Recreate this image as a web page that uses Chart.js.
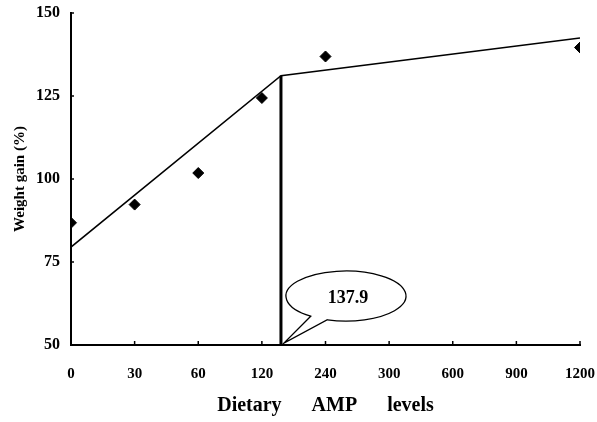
<!DOCTYPE html>
<html>
<head>
<meta charset="utf-8">
<script src="https://cdn.jsdelivr.net/npm/chart.js@4/dist/chart.umd.min.js"></script>
<style>
  html, body { margin: 0; padding: 0; background: #fff; }
  #wrap { width: 597px; height: 422px; position: relative; }
</style>
</head>
<body>
<div id="wrap"><canvas id="chart"></canvas></div>
<script>
// AMP levels, shown on an evenly spaced axis
const xTickLabels = ['0', '30', '60', '120', '240', '300', '600', '900', '1200'];

// observed weight gain (%) - position on the level axis and value
const obsLevelPos = [0, 1, 2, 3, 4, 8];
const obsGain = [86.8, 92.3, 101.8, 124.4, 136.9, 139.6];

// broken-line fit
const fitLevelPos = [0, 3.3, 8];
const fitGain = [79.5, 131.1, 142.5];

// breakpoint
const breakPos = 3.3;
const breakLabel = '137.9';

const yMin = 50, yMax = 150, yStep = 25;

const serif = '"Liberation Serif", "DejaVu Serif", serif';

function pairs(xs, ys) {
    const out = [];
    for (let i = 0; i < xs.length; i++) {
        out.push({x: xs[i], y: ys[i]});
    }
    return out;
}

// inward tick marks + callout bubble
const extras = {
    id: 'extras',
    afterDatasetsDraw(chart) {
        const ctx = chart.ctx;
        const xs = chart.scales.x, ys = chart.scales.y;
        const area = chart.chartArea;
        ctx.save();
        ctx.strokeStyle = '#000';
        ctx.lineWidth = 1.5;
        for (let i = 0; i < xTickLabels.length; i++) {
            const px = xs.getPixelForValue(i);
            ctx.beginPath();
            ctx.moveTo(px, area.bottom);
            ctx.lineTo(px, area.bottom - 4);
            ctx.stroke();
        }
        for (let v = yMin; v <= yMax; v += yStep) {
            const py = ys.getPixelForValue(v);
            ctx.beginPath();
            ctx.moveTo(area.left, py);
            ctx.lineTo(area.left + 3, py);
            ctx.stroke();
        }

        // callout pointing at the breakpoint on the axis
        const tipX = xs.getPixelForValue(breakPos) + 3;
        const tipY = ys.getPixelForValue(yMin) - 2;
        const cx = tipX + 62, cy = tipY - 47;
        const rx = 60, ry = 25;
        const a1 = Math.PI * 0.70, a2 = Math.PI * 0.60;
        ctx.lineWidth = 1.3;
        ctx.fillStyle = '#fff';
        ctx.beginPath();
        ctx.ellipse(cx, cy, rx, ry, 0, a1, a2 + Math.PI * 2, false);
        ctx.lineTo(tipX, tipY);
        ctx.closePath();
        ctx.fill();
        ctx.stroke();

        ctx.fillStyle = '#000';
        ctx.font = 'bold 18px ' + serif;
        ctx.textAlign = 'center';
        ctx.textBaseline = 'middle';
        ctx.fillText(breakLabel, cx + 2, cy + 2);
        ctx.restore();
    }
};

const config = {
    type: 'scatter',
    data: {
        datasets: [{
            label: 'fit',
            data: pairs(fitLevelPos, fitGain),
            showLine: true,
            borderColor: '#000',
            borderWidth: 1.5,
            pointRadius: 0,
            order: 2
        }, {
            label: 'break',
            data: [{x: breakPos, y: fitGain[1]}, {x: breakPos, y: yMin}],
            showLine: true,
            borderColor: '#000',
            borderWidth: 3,
            pointRadius: 0,
            order: 3
        }, {
            label: 'observed',
            data: pairs(obsLevelPos, obsGain),
            showLine: false,
            pointStyle: 'rectRot',
            pointRadius: 5.5,
            backgroundColor: '#000',
            borderColor: '#000',
            order: 1
        }]
    },
    options: {
        responsive: true,
        maintainAspectRatio: false,
        animation: false,
        layout: {
            padding: {left: 0, right: 17, top: 13, bottom: 0}
        },
        plugins: {
            legend: {display: false},
            tooltip: {enabled: false}
        },
        scales: {
            x: {
                type: 'linear',
                min: 0,
                max: xTickLabels.length - 1,
                afterFit: function (scale) {
                    scale.height = 77;
                    scale.paddingLeft = 0;
                    scale.paddingRight = 0;
                },
                grid: {display: false, drawTicks: false},
                border: {display: true, color: '#000', width: 2},
                ticks: {
                    stepSize: 1,
                    padding: 20,
                    color: '#000',
                    maxRotation: 0,
                    autoSkip: false,
                    font: {family: serif, size: 15, weight: 'bold'},
                    callback: function (value) {
                        return xTickLabels[value];
                    }
                },
                title: {
                    display: true,
                    text: 'Dietary      AMP      levels',
                    color: '#000',
                    font: {family: serif, size: 20, weight: 'bold'},
                    padding: {top: 0, bottom: 4}
                }
            },
            y: {
                min: yMin,
                max: yMax,
                afterFit: function (scale) {
                    scale.width = 71;
                    scale.paddingTop = 0;
                    scale.paddingBottom = 0;
                },
                grid: {display: false, drawTicks: false},
                border: {display: true, color: '#000', width: 2},
                ticks: {
                    stepSize: yStep,
                    padding: 11,
                    color: '#000',
                    font: {family: serif, size: 16, weight: 'bold'}
                },
                title: {
                    display: true,
                    text: 'Weight gain (%)',
                    color: '#000',
                    font: {family: serif, size: 15, weight: 'bold'},
                    padding: {top: 11, bottom: 0}
                }
            }
        }
    },
    plugins: [extras]
};

new Chart(document.getElementById('chart'), config);
</script>
</body>
</html>
